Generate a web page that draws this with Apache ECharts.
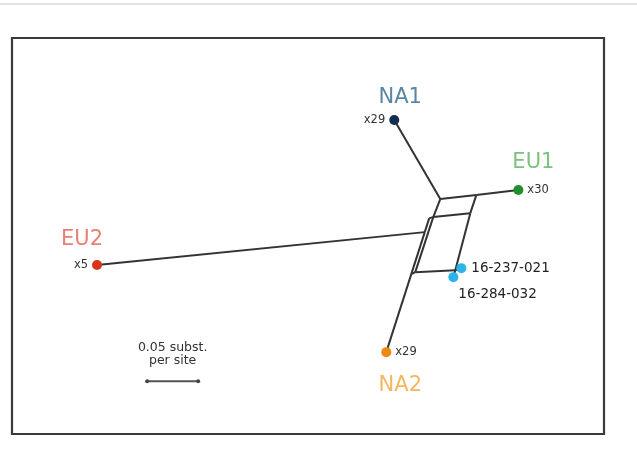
<!DOCTYPE html>
<html>
<head>
<meta charset="utf-8">
<script src="https://cdn.jsdelivr.net/npm/echarts@6/dist/echarts.min.js"></script>
<style>
  html, body { margin: 0; padding: 0; background: #fff; }
  #chart { width: 637px; height: 456px; }
</style>
</head>
<body>
<div id="chart"></div>
<script>
// Split network of isolates; coordinates in substitutions per site.
const nodeNames = ['NA1', 'A', 'B', 'EU1', 'D', 'C', 'D2', 'E', 'F', 'F2', 'EU2', 'G', 'NA2', '16-237-021', '16-284-032'];
const nodeX = [0.3745, 0.4196, 0.4549, 0.4961, 0.4127, 0.4490, 0.4088, 0.4044, 0.3951, 0.3912, 0.0833, 0.4343, 0.3667, 0.4402, 0.4324];
const nodeY = [0.0804, 0.1578, 0.1539, 0.1490, 0.1755, 0.1716, 0.1765, 0.1902, 0.2294, 0.2314, 0.2225, 0.2275, 0.3078, 0.2255, 0.2343];

// Edges of the split network
const edgeFrom = ['NA1', 'A', 'B', 'A', 'B', 'D', 'D', 'D', 'D2', 'E', 'E', 'F', 'C', 'F', 'F2', 'G', 'G'];
const edgeTo   = ['A',   'B', 'EU1', 'D', 'C', 'C', 'F', 'D2', 'E', 'F2', 'EU2', 'F2', 'G', 'G', 'NA2', '16-237-021', '16-284-032'];

// Tips: cluster name and number of isolates
const tipNames  = ['NA1', 'EU1', 'EU2', 'NA2'];
const tipCounts = ['x29', 'x30', 'x5', 'x29'];
const singleIsolates = ['16-237-021', '16-284-032'];

// Scale bar length (subst. per site)
const scaleLength = 0.05;
const scaleStart = [0.1324, 0.3363];

const dotColors = { NA1: '#0e2f52', EU1: '#1f8f2d', EU2: '#d7341e', NA2: '#ee8a14' };
const nameColors = { NA1: '#2f6690', EU1: '#57b45a', EU2: '#e0604c', NA2: '#f2a436' };
const nameOffsets = { NA1: [6, -23], EU1: [15, -28], EU2: [-15, -26], NA2: [14, 33] };
const countSides = { NA1: 'left', EU1: 'right', EU2: 'left', NA2: 'right' };
const cyan = '#2bb4ea';

const font = 'DejaVu Sans';

const nodes = nodeNames.map((n, i) => {
  const item = { name: n, value: [nodeX[i], nodeY[i]], symbolSize: 0, label: { show: false } };
  const t = tipNames.indexOf(n);
  if (t >= 0) {
    item.symbolSize = 10;
    item.itemStyle = { color: dotColors[n] };
    item.label = {
      show: true, formatter: tipCounts[t], position: countSides[n], distance: 4,
      fontSize: 11.5, color: '#333', fontFamily: font
    };
  }
  const s = singleIsolates.indexOf(n);
  if (s >= 0) {
    item.symbolSize = 10;
    item.itemStyle = { color: cyan };
    item.label = s === 0
      ? { show: true, formatter: n, position: 'right', distance: 5, fontSize: 13.5, color: '#222', fontFamily: font }
      : { show: true, formatter: n, position: 'right', distance: 2, offset: [-2, 17], fontSize: 13.5, color: '#222', fontFamily: font };
  }
  return item;
});

const links = edgeFrom.map((f, i) => ({ source: f, target: edgeTo[i] }));

const clusterLabels = tipNames.map(n => {
  const i = nodeNames.indexOf(n);
  return {
    value: [nodeX[i], nodeY[i]],
    label: { show: true, formatter: n, offset: nameOffsets[n], color: nameColors[n], fontSize: 21, fontFamily: font }
  };
});

const chart = echarts.init(document.getElementById('chart'), null, { renderer: 'canvas' });
chart.setOption({
  animation: false,
  backgroundColor: '#fff',
  grid: {
    left: 12, top: 38, width: 592, height: 396,
    show: true, borderColor: '#3a3a3a', borderWidth: 2.2, backgroundColor: '#fff'
  },
  xAxis: { type: 'value', min: 0, max: 0.58, show: false },
  yAxis: { type: 'value', min: 0, max: 0.388, inverse: true, show: false },
  graphic: [{
    type: 'line', shape: { x1: 0, y1: 4, x2: 637, y2: 4 },
    style: { stroke: '#e2e2e2', lineWidth: 2 }
  }],
  series: [
    {
      type: 'graph',
      coordinateSystem: 'cartesian2d',
      layout: 'none',
      data: nodes,
      links: links,
      lineStyle: { color: '#333', width: 2, opacity: 1 },
      emphasis: { disabled: true },
      z: 2
    },
    {
      type: 'scatter',
      symbolSize: 0,
      data: clusterLabels,
      silent: true,
      z: 3
    },
    {
      type: 'line',
      data: [scaleStart, [scaleStart[0] + scaleLength, scaleStart[1]]],
      symbol: 'circle',
      symbolSize: 4,
      showSymbol: true,
      itemStyle: { color: '#444' },
      lineStyle: { color: '#555', width: 2 },
      silent: true,
      markPoint: {
        symbol: 'rect', symbolSize: 0,
        data: [{
          coord: [scaleStart[0] + scaleLength / 2, scaleStart[1]],
          label: {
            show: true, formatter: '0.05 subst.\nper site', offset: [0, -27],
            fontSize: 12.5, lineHeight: 13, color: '#333', fontFamily: font
          }
        }]
      }
    }
  ]
});
</script>
</body>
</html>
